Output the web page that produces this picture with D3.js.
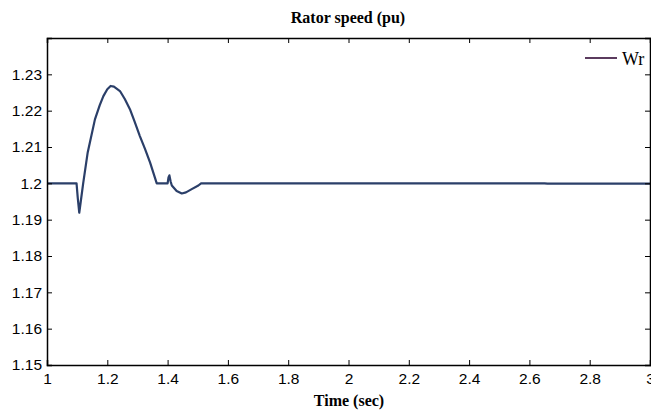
<!DOCTYPE html>
<html>
<head>
  <meta charset="UTF-8">
  <style>
    body { margin: 0; background: #fff; }
    svg { display: block; }
    .tick text { font-family: "Liberation Sans", Arial, sans-serif; font-size: 15.5px; fill: #000; }
  </style>
  <script src="https://d3js.org/d3.v7.min.js"></script>
</head>
<body>
  <svg id="chart"></svg>
  <script>
    let width = 651, height = 410;

    // rotor speed trace (time in s, speed in pu)
    var timeVals = [1, 1.098, 1.102, 1.107, 1.112, 1.12, 1.135, 1.159, 1.175, 1.187, 1.2, 1.211, 1.222, 1.242, 1.258, 1.275, 1.29, 1.308, 1.325, 1.342, 1.364, 1.400, 1.403, 1.406, 1.41, 1.414, 1.43, 1.447, 1.461, 1.48, 1.502, 1.511, 2.65, 2.66, 3];
    var speedVals = [1.2, 1.2, 1.196, 1.1919, 1.195, 1.2, 1.2085, 1.2176, 1.2215, 1.224, 1.2259, 1.2268, 1.2266, 1.2254, 1.2232, 1.2204, 1.2171, 1.213, 1.2095, 1.2057, 1.2, 1.2, 1.2016, 1.2022, 1.2005, 1.1994, 1.1979, 1.1972, 1.1975, 1.1984, 1.1994, 1.2, 1.2, 1.1999, 1.1999];
    var xTicks = [1, 1.2, 1.4, 1.6, 1.8, 2, 2.2, 2.4, 2.6, 2.8, 3];
    var yTicks = [1.15, 1.16, 1.17, 1.18, 1.19, 1.2, 1.21, 1.22, 1.23, 1.24];
    var seriesName = "Wr";

    let svg = d3.select("#chart")
      .attr("width", width)
      .attr("height", height);

    let mLeft = 47, mRight = 650, mTop = 38, mBottom = 365;

    let x = d3.scaleLinear().domain([1, 3]).range([mLeft, mRight]);
    let y = d3.scaleLinear().domain([1.15, 1.24]).range([mBottom, mTop]);

    let data = timeVals.map((t, i) => ({t: t, v: speedVals[i]}));

    // the trace
    svg.append("path")
      .datum(data)
      .attr("fill", "none")
      .attr("stroke", "#2b3f69")
      .attr("stroke-width", 2.2)
      .attr("stroke-linejoin", "round")
      .attr("d", d3.line().x(d => x(d.t)).y(d => y(d.v)));

    // axes, ticks pointing inward like matlab
    let fmt = d => d3.format("")(+d.toFixed(2));

    svg.append("g")
      .attr("transform", "translate(0," + mBottom + ")")
      .call(d3.axisBottom(x).tickValues(xTicks).tickSize(-5).tickPadding(8).tickFormat(fmt));

    svg.append("g")
      .attr("transform", "translate(0," + mTop + ")")
      .call(d3.axisTop(x).tickValues(xTicks).tickSize(-5).tickFormat(""));

    svg.append("g")
      .attr("transform", "translate(" + mLeft + ",0)")
      .call(d3.axisLeft(y).tickValues(yTicks).tickSize(-5).tickPadding(5)
        .tickFormat(d => d > 1.235 ? "" : fmt(d)));

    svg.append("g")
      .attr("transform", "translate(" + mRight + ",0)")
      .call(d3.axisRight(y).tickValues(yTicks).tickSize(-5).tickFormat(""));

    svg.selectAll(".domain").attr("stroke", "#000").attr("stroke-width", 1.5);
    svg.selectAll(".tick line").attr("stroke", "#000").attr("stroke-width", 1);

    // titles
    svg.append("text")
      .attr("x", 348).attr("y", 23)
      .attr("text-anchor", "middle")
      .style("font-family", "'Liberation Serif', 'Times New Roman', serif")
      .style("font-weight", "bold")
      .style("font-size", "16px")
      .text("Rator speed (pu)");

    svg.append("text")
      .attr("x", 349).attr("y", 406)
      .attr("text-anchor", "middle")
      .style("font-family", "'Liberation Serif', 'Times New Roman', serif")
      .style("font-weight", "bold")
      .style("font-size", "16px")
      .text("Time (sec)");

    // legend
    svg.append("line")
      .attr("x1", 585).attr("x2", 617)
      .attr("y1", 58).attr("y2", 58)
      .attr("stroke", "#5b3b5e")
      .attr("stroke-width", 2);

    svg.append("text")
      .attr("x", 622).attr("y", 65)
      .style("font-family", "'Liberation Serif', 'Times New Roman', serif")
      .style("font-size", "18px")
      .text(seriesName);
  </script>
</body>
</html>
